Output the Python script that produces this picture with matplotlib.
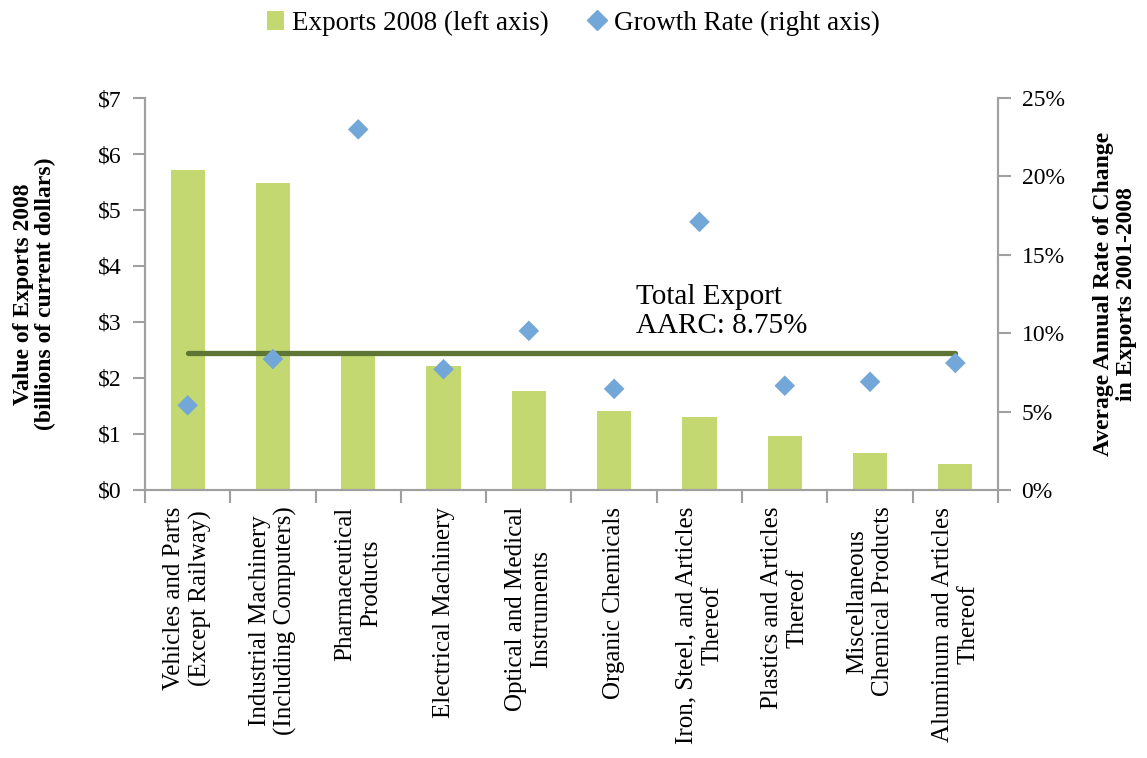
import numpy as np
import matplotlib
matplotlib.use("Agg")
from matplotlib import pyplot as plt
from matplotlib.lines import Line2D
from matplotlib.patches import Patch

plt.rcParams['font.family'] = ['Liberation Serif', 'DejaVu Serif']

categories = [
    "Vehicles and Parts\n(Except Railway)",
    "Industrial Machinery\n(Including Computers)",
    "Pharmaceutical\nProducts",
    "Electrical Machinery",
    "Optical and Medical\nInstruments",
    "Organic Chemicals",
    "Iron, Steel, and Articles\nThereof",
    "Plastics and Articles\nThereof",
    "Miscellaneous\nChemical Products",
    "Aluminum and Articles\nThereof",
]
exports_2008 = [5.71, 5.48, 2.42, 2.21, 1.77, 1.41, 1.31, 0.96, 0.66, 0.46]
growth_rate = [5.4, 8.35, 23.0, 7.7, 10.15, 6.45, 17.1, 6.65, 6.9, 8.1]
total_aarc = 8.75

left_ticks = [0, 1, 2, 3, 4, 5, 6, 7]
right_ticks = [0, 5, 10, 15, 20, 25]

bar_color = "#c4d872"
dot_color = "#72a7d8"
line_color = "#5f7534"
axis_color = "#a0a0a0"

fig = plt.figure(figsize=(11.47, 7.58), dpi=100)
ax = fig.add_axes([0.1264, 0.3536, 0.7437, 0.5171])
ax2 = ax.twinx()

x = np.arange(len(categories))
ax.bar(x, exports_2008, width=0.4, color=bar_color, zorder=2)
ax2.plot([x[0], x[-1]], [total_aarc, total_aarc], color=line_color, lw=3.8,
         solid_capstyle='round', zorder=3)
ax2.scatter(x, growth_rate, marker='D', s=110, color=dot_color, zorder=4,
            edgecolors='none')
ax2.text(5.26, 9.6, "Total Export\nAARC: 8.75%", fontsize=21, ha='left',
         va='bottom', linespacing=1.15)

ax.set_xlim(-0.5, len(categories) - 0.5)
ax.set_ylim(0, 7)
ax2.set_ylim(0, 25)
ax.set_yticks(left_ticks)
ax.set_yticklabels(["$%d" % v for v in left_ticks], fontsize=17)
ax2.set_yticks(right_ticks)
ax2.set_yticklabels(["%d%%" % v for v in right_ticks], fontsize=17)

ax.set_xticks(np.arange(-0.5, len(categories), 1.0))
ax.set_xticklabels([])
ax.set_xticks(x, minor=True)
ax.set_xticklabels(categories, minor=True, rotation=90, fontsize=18,
                   ha='center', va='top', multialignment='center',
                   linespacing=1.2)
ax.tick_params(axis='x', which='minor', length=0, pad=12)
ax.tick_params(axis='x', which='major', length=9, width=1.5, color=axis_color,
               direction='out')
ax.tick_params(axis='y', length=9, width=1.5, color=axis_color, pad=8)
ax2.tick_params(axis='y', length=9, width=1.5, color=axis_color, pad=8)

for a in (ax, ax2):
    a.spines['top'].set_visible(False)
    for s in ('left', 'right', 'bottom'):
        a.spines[s].set_color(axis_color)
        a.spines[s].set_linewidth(1.5)

ax.set_ylabel("Value of Exports 2008\n(billions of current dollars)",
              fontsize=17, fontweight='bold', labelpad=30, linespacing=1.05)
ax2.set_ylabel("Average Annual Rate of Change\nin Exports 2001-2008",
               fontsize=17, fontweight='bold', rotation=90, labelpad=20,
               linespacing=1.15)

handles = [
    Patch(facecolor=bar_color, edgecolor='none', label="Exports 2008 (left axis)"),
    Line2D([], [], marker='D', color=dot_color, linestyle='none',
           markersize=10, label="Growth Rate (right axis)"),
]
fig.legend(handles=handles, loc='upper center', bbox_to_anchor=(0.5, 1.018),
           ncol=2, frameon=False, fontsize=19.5, handlelength=0.6,
           handletextpad=0.3, columnspacing=1.5)

fig.savefig("out.png", dpi=100)
